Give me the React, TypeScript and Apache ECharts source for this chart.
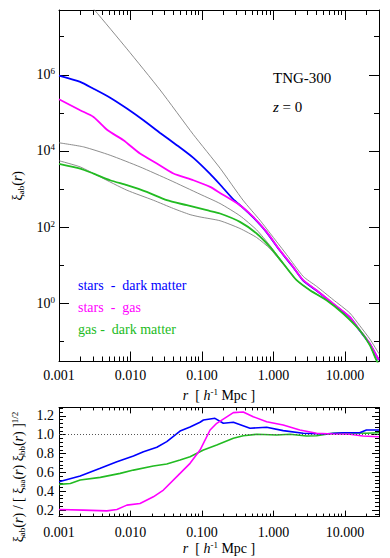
import React, { useEffect, useRef } from 'react';
import * as echarts from 'echarts';

const FONT = "'Liberation Serif', 'DejaVu Serif', serif";

// ---------- Top panel: xi_ab(r) ----------
const R_STARS_DM = [0.001, 0.00198, 0.00304, 0.0052, 0.00891, 0.0152, 0.026, 0.0445, 0.0759, 0.13, 0.179, 0.275, 0.36, 0.522, 0.804, 1.23, 1.89, 2.61, 4.01, 6.84, 11.7, 16.1, 22.3, 29.1, 30];
const XI_STARS_DM = [9.5e5, 6.5e5, 4.3e5, 2.5e5, 1.3e5, 6.4e4, 2.97e4, 1.42e4, 6580, 2510, 1320, 537, 347, 180, 73.5, 24.5, 8.9, 3.98, 2.18, 0.97, 0.435, 0.195, 0.0871, 0.0355, 0.0331];

const R_STARS_GAS = [0.001, 0.00198, 0.00304, 0.0048, 0.00798, 0.0136, 0.0234, 0.0399, 0.0759, 0.13, 0.179, 0.34, 0.522, 0.804, 1.23, 1.89, 2.61, 4.01, 6.84, 11.7, 16.1, 22.3, 29.1, 30];
const XI_STARS_GAS = [2.28e5, 1.17e5, 7.82e4, 3.5e4, 1.91e4, 8570, 4690, 2560, 1710, 1140, 794, 378, 186, 75.3, 25.1, 9.1, 4.07, 2.23, 1.0, 0.445, 0.199, 0.0891, 0.036, 0.0339];

const R_GAS_DM = [0.001, 0.00198, 0.00304, 0.0052, 0.00891, 0.0169, 0.0322, 0.0614, 0.117, 0.179, 0.34, 0.582, 0.893, 1.37, 2.11, 3.24, 5.53, 9.44, 16.1, 22.3, 27.6, 30];
const XI_GAS_DM = [4620, 3470, 2560, 1710, 1265, 843, 511, 378, 279, 229, 138, 68.4, 30.4, 11.2, 4.07, 2.23, 1.22, 0.546, 0.199, 0.0805, 0.0325, 0.024];

// auto-correlations (thin grey)
const R_STARS_STARS = [0.001, 0.00314, 0.00891, 0.026, 0.0759, 0.179, 0.375, 0.647, 1.0, 1.53, 2.61, 4.01, 6.84, 11.7, 16.1, 22.3, 30];
const XI_STARS_STARS = [5.75e8, 5.0e7, 4.79e6, 3.98e5, 2.69e4, 3550, 513, 153, 53.7, 19.1, 5.13, 2.82, 1.26, 0.562, 0.263, 0.117, 0.0479];

const R_DM_DM = [0.001, 0.00221, 0.0052, 0.0136, 0.0358, 0.094, 0.179, 0.34, 0.582, 0.893, 1.37, 2.11, 3.24, 5.53, 9.44, 16.1, 22.3, 27.6, 30];
const XI_DM_DM = [16400, 12800, 7730, 3820, 1710, 735, 419, 200, 85.1, 33.1, 11.5, 4.07, 2.23, 1.22, 0.546, 0.199, 0.0805, 0.0325, 0.024];

const R_GAS_GAS = [0.001, 0.00198, 0.00378, 0.00891, 0.0209, 0.0399, 0.0682, 0.094, 0.179, 0.34, 0.582, 0.893, 1.37, 2.11, 3.24, 5.53, 9.44, 16.1, 22.3, 27.6, 30];
const XI_GAS_GAS = [5550, 3820, 2080, 935, 511, 310, 214, 186, 148, 92.7, 53.7, 27.5, 10.7, 4.07, 2.23, 1.22, 0.546, 0.199, 0.0805, 0.0325, 0.024];

// ---------- Bottom panel: xi_ab / sqrt(xi_aa xi_bb) ----------
const R_RATIO_SDM = [0.001, 0.00198, 0.00378, 0.00646, 0.011, 0.0152, 0.0234, 0.0322, 0.0494, 0.0682, 0.094, 0.105, 0.152, 0.199, 0.275, 0.47, 0.804, 1.37, 2.61, 4.97, 9.44, 16.1, 20.0, 29.1, 30];
const RATIO_SDM = [0.5, 0.561, 0.643, 0.713, 0.773, 0.819, 0.866, 0.926, 1.039, 1.082, 1.132, 1.156, 1.174, 1.121, 1.132, 1.068, 1.079, 1.043, 1.015, 1.007, 1.021, 1.021, 1.05, 1.05, 1.05];

const R_RATIO_SG = [0.001, 0.00221, 0.00468, 0.00646, 0.00891, 0.0136, 0.0209, 0.0289, 0.0494, 0.0682, 0.094, 0.13, 0.161, 0.275, 0.378, 0.522, 0.804, 1.37, 2.34, 4.01, 6.84, 11.7, 17.95, 29.1, 30];
const RATIO_SG = [0.206, 0.199, 0.191, 0.206, 0.252, 0.27, 0.34, 0.412, 0.589, 0.696, 0.837, 1.05, 1.121, 1.234, 1.241, 1.191, 1.138, 1.103, 1.05, 1.015, 1.007, 1.004, 0.986, 0.979, 0.979];

const R_RATIO_GDM = [0.001, 0.00144, 0.00198, 0.00378, 0.00718, 0.011, 0.0209, 0.0322, 0.0494, 0.0682, 0.105, 0.161, 0.275, 0.378, 0.582, 1.11, 1.7, 2.91, 4.01, 6.84, 11.7, 20.0, 29.1, 30];
const RATIO_GDM = [0.472, 0.481, 0.518, 0.547, 0.589, 0.624, 0.667, 0.688, 0.731, 0.766, 0.837, 0.89, 0.962, 0.989, 1.004, 0.997, 1.004, 0.986, 0.989, 1.015, 1.021, 1.015, 1.021, 1.021];

const UNITY = 1.0;

// ---------- ticks ----------
const X_MIN = 0.001;
const X_MAX = 30;
const X_MAJOR = [0.001, 0.01, 0.1, 1, 10];
const X_MAJOR_LABELS = ['0.001', '0.010', '0.100', '1.000', '10.000'];
const X_MINOR = [
  0.002, 0.003, 0.004, 0.005, 0.006, 0.007, 0.008, 0.009,
  0.02, 0.03, 0.04, 0.05, 0.06, 0.07, 0.08, 0.09,
  0.2, 0.3, 0.4, 0.5, 0.6, 0.7, 0.8, 0.9,
  2, 3, 4, 5, 6, 7, 8, 9, 20,
];
const Y_TOP_MIN = 0.03;
const Y_TOP_MAX = 5e7;
const Y_TOP_MAJOR = [1, 100, 1e4, 1e6];
const Y_TOP_MINOR = [0.1, 10, 1e3, 1e5, 1e7];
const Y_BOT_MIN = 0.13;
const Y_BOT_MAX = 1.29;
const Y_BOT_MAJOR = [0.2, 0.4, 0.6, 0.8, 1.0, 1.2];
const Y_BOT_MINOR = [0.16, 0.24, 0.28, 0.32, 0.36, 0.44, 0.48, 0.52, 0.56, 0.64, 0.68, 0.72, 0.76, 0.84, 0.88, 0.92, 0.96, 1.04, 1.08, 1.12, 1.16, 1.24, 1.28];

const BLUE = '#0000ff';
const MAGENTA = '#ff00ff';
const GREEN = '#22bb22';
const GREY = '#808080';

const LEGEND = [
  { text: 'stars  -  dark matter', color: BLUE },
  { text: 'stars  -  gas', color: MAGENTA },
  { text: 'gas -  dark matter', color: GREEN },
];

const RICH = {
  n: { fontFamily: FONT, fontSize: 14, color: '#000' },
  i: { fontFamily: FONT, fontSize: 14, fontStyle: 'italic', color: '#000' },
  sub: { fontFamily: FONT, fontSize: 9, color: '#000', padding: [7, 0, 0, 0] },
  sup: { fontFamily: FONT, fontSize: 9, color: '#000', padding: [0, 0, 7, 0] },
  b: { fontFamily: FONT, fontSize: 14, color: '#000' },
  s: { fontFamily: FONT, fontSize: 9, color: '#000', padding: [0, 0, 7, 0] },
};

const fmtX = (v: number) => {
  const i = X_MAJOR.findIndex((m) => Math.abs(Math.log10(v / m)) < 0.01);
  return i >= 0 ? X_MAJOR_LABELS[i] : '';
};

const pairs = (r: number[], v: number[]) => r.map((x, i) => [x, v[i]]);

function xAxis(gridIndex: number, position: string, ticks: number[], len: number, line: boolean, label: any, name?: any) {
  return {
    type: 'log',
    logBase: 10,
    gridIndex,
    position,
    min: X_MIN,
    max: X_MAX,
    axisLine: { show: line, onZero: false, lineStyle: { color: '#000', width: 1 } },
    axisTick: { show: true, inside: true, length: len, customValues: ticks, lineStyle: { color: '#000', width: 1 } },
    axisLabel: label || { show: false },
    splitLine: { show: false },
    minorTick: { show: false },
    ...(name || {}),
  };
}

function yAxis(gridIndex: number, position: string, type: string, min: number, max: number, ticks: number[], len: number, line: boolean, label: any, name?: any) {
  return {
    type,
    ...(type === 'log' ? { logBase: 10 } : {}),
    gridIndex,
    position,
    min,
    max,
    axisLine: { show: line, onZero: false, lineStyle: { color: '#000', width: 1 } },
    axisTick: { show: true, inside: true, length: len, customValues: ticks, lineStyle: { color: '#000', width: 1 } },
    axisLabel: label || { show: false },
    splitLine: { show: false },
    minorTick: { show: false },
    ...(name || {}),
  };
}

const xLabel = (margin: number) => ({
  show: true,
  customValues: X_MAJOR,
  formatter: fmtX,
  margin,
  color: '#000',
  fontFamily: FONT,
  fontSize: 14,
});

const xName = (gap: number) => ({
  name: '{i|r}{n|  [ }{i|h}{sup|-1}{n| Mpc ]}',
  nameLocation: 'middle',
  nameGap: gap,
  nameTextStyle: { fontFamily: FONT, fontSize: 14, color: '#000', rich: RICH },
});

function buildOption() {
  const topLine = (name: string, r: number[], v: number[], color: string, width: number) => ({
    type: 'line',
    name,
    data: pairs(r, v),
    xAxisIndex: 0,
    yAxisIndex: 0,
    symbol: 'none',
    showSymbol: false,
    smooth: 0.2,
    clip: true,
    silent: true,
    lineStyle: { color, width },
  });
  const botLine = (name: string, r: number[], v: number[], color: string, extra?: any) => ({
    type: 'line',
    name,
    data: pairs(r, v),
    xAxisIndex: 4,
    yAxisIndex: 4,
    symbol: 'none',
    showSymbol: false,
    clip: true,
    silent: true,
    lineStyle: { color, width: 1.6 },
    ...(extra || {}),
  });

  return {
    animation: false,
    backgroundColor: '#fff',
    textStyle: { fontFamily: FONT },
    grid: [
      { left: 59, top: 10, width: 320, height: 351.5, containLabel: false, outerBoundsMode: 'none' },
      { left: 59, top: 407.4, width: 320, height: 109.2, containLabel: false, outerBoundsMode: 'none' },
    ],
    xAxis: [
      xAxis(0, 'bottom', X_MAJOR, 10, true, xLabel(7), xName(21)),
      xAxis(0, 'bottom', X_MINOR, 5, false, null),
      xAxis(0, 'top', X_MAJOR, 10, true, null),
      xAxis(0, 'top', X_MINOR, 5, false, null),
      xAxis(1, 'bottom', X_MAJOR, 6, true, xLabel(9), xName(24)),
      xAxis(1, 'bottom', X_MINOR, 3, false, null),
      xAxis(1, 'top', X_MAJOR, 6, true, null),
      xAxis(1, 'top', X_MINOR, 3, false, null),
    ],
    yAxis: [
      yAxis(0, 'left', 'log', Y_TOP_MIN, Y_TOP_MAX, Y_TOP_MAJOR, 10, true,
        {
          show: true,
          customValues: Y_TOP_MAJOR,
          margin: 4,
          formatter: (v: number) => `{b|10}{s|${Math.round(Math.log10(v))}}`,
          rich: RICH,
          fontFamily: FONT,
          fontSize: 14,
          color: '#000',
        },
        {
          name: '{n|ξ}{sub|ab}{n|(}{i|r}{n|)}',
          nameLocation: 'middle',
          nameGap: 33,
          nameRotate: 90,
          nameTextStyle: { fontFamily: FONT, fontSize: 14, color: '#000', rich: RICH },
        }),
      yAxis(0, 'left', 'log', Y_TOP_MIN, Y_TOP_MAX, Y_TOP_MINOR, 5, false, null),
      yAxis(0, 'right', 'log', Y_TOP_MIN, Y_TOP_MAX, Y_TOP_MAJOR, 10, true, null),
      yAxis(0, 'right', 'log', Y_TOP_MIN, Y_TOP_MAX, Y_TOP_MINOR, 5, false, null),
      yAxis(1, 'left', 'value', Y_BOT_MIN, Y_BOT_MAX, Y_BOT_MAJOR, 7, true, {
        show: true,
        customValues: Y_BOT_MAJOR,
        margin: 5,
        formatter: (v: number) => v.toFixed(1),
        fontFamily: FONT,
        fontSize: 14,
        color: '#000',
      }),
      yAxis(1, 'left', 'value', Y_BOT_MIN, Y_BOT_MAX, Y_BOT_MINOR, 4, false, null),
      yAxis(1, 'right', 'value', Y_BOT_MIN, Y_BOT_MAX, Y_BOT_MAJOR, 7, true, null),
      yAxis(1, 'right', 'value', Y_BOT_MIN, Y_BOT_MAX, Y_BOT_MINOR, 4, false, null),
    ],
    series: [
      topLine('stars - stars', R_STARS_STARS, XI_STARS_STARS, GREY, 0.9),
      topLine('dark matter - dark matter', R_DM_DM, XI_DM_DM, GREY, 0.9),
      topLine('gas - gas', R_GAS_GAS, XI_GAS_GAS, GREY, 0.9),
      topLine('stars - dark matter', R_STARS_DM, XI_STARS_DM, BLUE, 1.8),
      topLine('stars - gas', R_STARS_GAS, XI_STARS_GAS, MAGENTA, 1.8),
      topLine('gas - dark matter', R_GAS_DM, XI_GAS_DM, GREEN, 1.8),
      botLine('gas - dark matter ratio', R_RATIO_GDM, RATIO_GDM, GREEN, {
        markLine: {
          silent: true,
          symbol: 'none',
          label: { show: false },
          lineStyle: { color: '#555', width: 1, type: [1, 2] },
          data: [{ yAxis: UNITY }],
        },
      }),
      botLine('stars - dark matter ratio', R_RATIO_SDM, RATIO_SDM, BLUE),
      botLine('stars - gas ratio', R_RATIO_SG, RATIO_SG, MAGENTA),
    ],
    graphic: [
      ...LEGEND.map((l, i) => ({
        type: 'text',
        x: 78,
        y: 285 + i * 22,
        silent: true,
        style: {
          text: l.text,
          fill: l.color,
          fontFamily: FONT,
          fontSize: 14,
          textVerticalAlign: 'middle',
        },
      })),
      {
        type: 'text',
        x: 273,
        y: 78,
        silent: true,
        style: { text: 'TNG-300', fill: '#000', fontFamily: FONT, fontSize: 15, textVerticalAlign: 'middle' },
      },
      {
        type: 'text',
        x: 273,
        y: 107,
        silent: true,
        style: {
          text: '{zi|z}{zn| = 0}',
          fill: '#000',
          fontFamily: FONT,
          fontSize: 15,
          textVerticalAlign: 'middle',
          rich: {
            zi: { fontFamily: FONT, fontSize: 15, fontStyle: 'italic', color: '#000' },
            zn: { fontFamily: FONT, fontSize: 15, color: '#000' },
          },
        },
      },
      {
        type: 'text',
        x: 18,
        y: 477,
        rotation: Math.PI / 2,
        silent: true,
        style: {
          text: '{n|ξ}{sub|ab}{n|(}{i|r}{n|) / [ ξ}{sub|aa}{n|(}{i|r}{n|) ξ}{sub|bb}{n|(}{i|r}{n|) ]}{sup|1/2}',
          fontFamily: FONT,
          fontSize: 14,
          fill: '#000',
          textAlign: 'center',
          textVerticalAlign: 'middle',
          rich: RICH,
        },
      },
    ],
  };
}

export default function App() {
  const ref = useRef<HTMLDivElement>(null);
  useEffect(() => {
    if (!ref.current) return;
    const chart = echarts.init(ref.current, undefined, { renderer: 'svg' });
    chart.setOption(buildOption() as any);
    return () => chart.dispose();
  }, []);
  return (
    <div
      ref={ref}
      style={{ position: 'fixed', left: 0, top: 0, width: 390, height: 558, background: '#fff' }}
    />
  );
}
